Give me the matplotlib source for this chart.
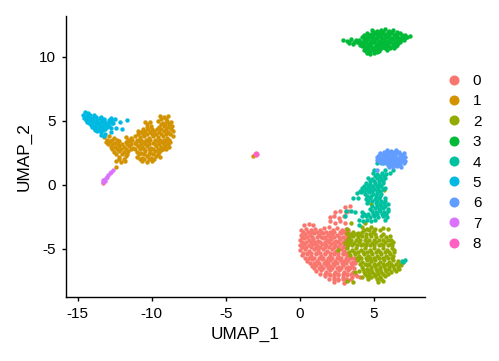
import matplotlib
matplotlib.use('Agg')
import matplotlib.pyplot as plt
from matplotlib.lines import Line2D

plt.rcParams['font.family'] = ['Liberation Sans', 'DejaVu Sans']

# umap coordinates, roughly row by row
cluster_0 = [
    (3.05, -1.72), (3.38, -1.68), (2.42, -2.1), (2.75, -2.02), (3.1, -2.12), (3.3, -2.05),
    (2.02, -2.5), (2.35, -2.42), (2.68, -2.55), (2.98, -2.46),
    (0.3, -3.12), (0.62, -3.05), (0.9, -3.15), (2.05, -2.85), (2.38, -2.95), (2.7, -2.82), (3.05, -2.98),
    (0.12, -3.48), (0.42, -3.42), (0.74, -3.55), (1.05, -3.4), (1.35, -3.52), (1.62, -3.38), (1.98, -3.28), (2.22, -3.5), (2.55, -3.36), (2.85, -3.5), (3.12, -3.4), (3.3, -3.55),
    (0.06, -3.88), (0.35, -3.8), (0.68, -3.92), (0.98, -3.78), (1.3, -3.9), (1.58, -3.76), (1.9, -3.88), (2.2, -3.8), (2.5, -3.92), (2.82, -3.78), (3.1, -3.86), (3.32, -3.98),
    (0.02, -4.28), (0.3, -4.18), (0.6, -4.32), (0.92, -4.2), (1.22, -4.34), (1.55, -4.18), (1.85, -4.3), (2.15, -4.2), (2.45, -4.34), (2.75, -4.2), (3.05, -4.3), (3.3, -4.22),
    (0.0, -4.68), (0.28, -4.6), (0.6, -4.72), (0.9, -4.58), (1.2, -4.7), (1.52, -4.6), (1.8, -4.72), (2.12, -4.58), (2.42, -4.7), (2.72, -4.62), (3.0, -4.74), (3.2, -4.6),
    (0.02, -5.08), (0.34, -5.0), (0.64, -5.12), (0.95, -4.98), (1.25, -5.1), (1.55, -5.02), (1.88, -5.14), (2.18, -5.0), (2.48, -5.12), (2.78, -5.02), (3.02, -5.14),
    (0.18, -5.5), (0.48, -5.4), (0.8, -5.52), (1.1, -5.4), (1.42, -5.54), (1.72, -5.42), (2.02, -5.52), (2.32, -5.42), (2.62, -5.54), (2.92, -5.42), (3.2, -5.5), (3.42, -5.62),
    (0.52, -5.92), (0.85, -5.82), (1.15, -5.94), (1.48, -5.82), (1.78, -5.96), (2.08, -5.84), (2.4, -5.96), (2.7, -5.84), (3.0, -5.96), (3.3, -5.86), (3.62, -5.98), (3.8, -5.84),
    (0.82, -6.32), (1.12, -6.22), (1.42, -6.36), (1.75, -6.24), (2.05, -6.36), (2.35, -6.24), (2.65, -6.38), (2.95, -6.26), (3.25, -6.38), (3.55, -6.28),
    (1.12, -6.72), (1.45, -6.62), (1.75, -6.76), (2.08, -6.64), (2.38, -6.78), (2.68, -6.66), (2.98, -6.78), (3.28, -6.66), (3.6, -6.78),
    (1.72, -7.12), (2.02, -7.02), (2.32, -7.16), (2.62, -7.04), (2.92, -7.18), (3.22, -7.06), (3.52, -7.16), (3.85, -7.1), (4.08, -7.2),
    (2.3, -7.58), (2.62, -7.46), (2.98, -7.62), (3.3, -7.42),
    (-13.27, 0.12),
]
cluster_1 = [
    (-9.45, 5.36), (-9.15, 5.28), (-8.92, 5.38),
    (-10.45, 4.95), (-10.12, 4.9), (-9.55, 4.98), (-9.25, 4.88), (-8.95, 5.0), (-8.68, 4.9),
    (-10.35, 4.55), (-10.05, 4.6), (-9.5, 4.52), (-9.2, 4.6), (-8.9, 4.5), (-8.62, 4.62),
    (-10.95, 4.18), (-10.72, 4.1), (-10.42, 4.22), (-10.12, 4.12), (-9.82, 4.24), (-9.5, 4.12), (-9.2, 4.22), (-8.9, 4.1), (-8.58, 4.2),
    (-13.22, 3.72), (-12.9, 3.8), (-12.55, 3.7), (-11.75, 3.78), (-11.42, 3.7), (-11.12, 3.84), (-10.82, 3.72), (-10.5, 3.82), (-10.2, 3.7), (-9.88, 3.84), (-9.58, 3.72), (-9.26, 3.82), (-8.95, 3.7), (-8.58, 3.8),
    (-13.12, 3.36), (-12.8, 3.42), (-12.5, 3.3), (-12.22, 3.44), (-11.75, 3.32), (-11.45, 3.42), (-11.15, 3.3), (-10.85, 3.44), (-10.55, 3.32), (-10.24, 3.4), (-9.92, 3.3), (-9.6, 3.44), (-9.3, 3.32), (-9.0, 3.42), (-8.78, 3.34),
    (-12.78, 3.0), (-12.48, 2.94), (-12.18, 3.06), (-11.88, 2.94), (-11.56, 3.04), (-11.25, 2.92), (-10.95, 3.04), (-10.65, 2.94), (-10.35, 3.06), (-10.02, 2.92), (-9.72, 3.04), (-9.4, 2.94), (-9.1, 3.04), (-8.82, 2.96),
    (-12.55, 2.58), (-12.22, 2.66), (-11.9, 2.54), (-11.62, 2.64), (-11.02, 2.6), (-10.72, 2.5), (-10.42, 2.66), (-10.1, 2.54), (-9.8, 2.66), (-9.5, 2.54), (-9.4, 2.72),
    (-12.22, 2.2), (-11.75, 2.24), (-10.98, 2.22), (-10.68, 2.14), (-10.35, 2.26), (-10.02, 2.14), (-9.72, 2.24), (-9.42, 2.18),
    (-12.38, 1.84), (-12.08, 1.76), (-11.82, 1.88), (-10.65, 1.84), (-10.32, 1.78), (-9.98, 1.88),
    (-12.42, 1.38),
    (-3.18, 2.28),
]
cluster_2 = [
    (3.5, -2.98), (4.42, -2.95),
    (3.22, -3.42), (4.22, -3.32), (4.52, -3.4), (4.82, -3.3), (5.1, -3.42), (5.65, -3.38), (6.0, -3.42),
    (3.2, -3.72), (3.62, -3.66), (3.92, -3.74), (4.22, -3.64), (4.95, -3.7),
    (3.32, -4.06), (3.62, -3.98), (3.92, -4.1), (4.2, -4.0), (4.5, -4.1), (4.8, -3.98), (5.18, -4.08), (5.52, -4.02), (5.82, -4.1), (6.1, -4.0),
    (3.08, -4.52), (3.38, -4.42), (3.68, -4.56), (3.98, -4.44), (4.28, -4.58), (4.58, -4.44), (4.88, -4.56), (5.18, -4.44), (5.48, -4.58), (5.78, -4.46), (6.08, -4.58), (6.3, -4.48),
    (2.62, -5.1), (3.22, -4.92), (3.52, -5.04), (3.82, -4.9), (4.12, -5.04), (4.42, -4.92), (4.72, -5.06), (5.02, -4.92), (5.32, -5.04), (5.62, -4.94), (5.92, -5.06), (6.22, -4.94), (6.4, -5.1),
    (3.42, -5.5), (3.72, -5.38), (4.02, -5.52), (4.32, -5.4), (4.62, -5.54), (4.92, -5.4), (5.22, -5.52), (5.52, -5.42), (5.82, -5.54), (6.12, -5.42), (6.3, -5.58),
    (3.92, -5.84), (4.22, -5.98), (4.52, -5.84), (4.82, -5.96), (5.12, -5.86), (5.42, -5.98), (5.72, -5.86), (6.02, -5.98), (6.32, -5.88), (6.62, -5.96), (7.0, -6.02),
    (4.22, -6.4), (4.52, -6.28), (4.82, -6.42), (5.12, -6.3), (5.42, -6.42), (5.72, -6.3), (6.02, -6.4), (6.32, -6.3), (6.62, -6.38), (6.88, -6.28),
    (3.72, -6.78), (4.02, -6.7), (4.32, -6.82), (4.62, -6.7), (4.92, -6.82), (5.22, -6.72), (5.52, -6.8), (5.82, -6.72), (6.18, -6.8), (6.52, -6.72),
    (4.22, -7.16), (4.52, -7.08), (4.82, -7.2), (5.12, -7.08), (5.42, -7.18), (5.75, -7.1),
    (3.2, -7.52), (3.6, -7.56), (5.32, -7.58), (5.6, -7.52),
    (4.8, -1.52), (5.7, -0.4),
]
cluster_3 = [
    (4.92, 12.08), (5.2, 12.0), (5.48, 12.14), (5.76, 12.22), (6.02, 12.04), (6.3, 12.08),
    (4.52, 11.84), (4.8, 11.76), (5.08, 11.88), (5.36, 11.78), (5.64, 11.9), (5.92, 11.76), (6.2, 11.88), (6.5, 11.8), (6.8, 11.86),
    (4.2, 11.58), (4.48, 11.52), (4.76, 11.62), (5.04, 11.5), (5.32, 11.64), (5.6, 11.52), (5.88, 11.62), (6.16, 11.5), (6.44, 11.62), (6.72, 11.52), (7.0, 11.62), (7.22, 11.56), (7.45, 11.62),
    (2.92, 11.36), (3.2, 11.28), (3.48, 11.38), (3.78, 11.3), (4.04, 11.36), (4.32, 11.26), (4.6, 11.38), (4.88, 11.26), (5.16, 11.38), (5.44, 11.28), (5.72, 11.38), (6.0, 11.26), (6.28, 11.38), (6.56, 11.28), (6.84, 11.36), (7.02, 11.3),
    (3.32, 11.12), (3.62, 11.05), (3.9, 11.14), (4.12, 11.02), (4.4, 11.12), (4.68, 11.02), (4.96, 11.14), (5.24, 11.02), (5.52, 11.12), (5.8, 11.02), (6.08, 11.14), (6.36, 11.02), (6.66, 11.1),
    (4.22, 10.84), (4.5, 10.78), (4.78, 10.88), (5.06, 10.78), (5.34, 10.88), (5.62, 10.78), (5.9, 10.86), (6.2, 10.78), (6.48, 10.84),
    (4.32, 10.58), (4.62, 10.52), (4.9, 10.62), (5.18, 10.52), (5.46, 10.6), (5.88, 10.56),
    (4.52, 10.34), (4.76, 10.22), (5.0, 10.3), (5.2, 10.36),
]
cluster_4 = [
    (5.2, 1.68), (5.65, 1.7), (5.0, 1.18), (5.76, 1.2), (6.3, 1.16),
    (4.98, 0.9), (5.25, 0.84), (5.55, 0.94), (5.85, 0.86), (6.1, 0.92),
    (4.64, 0.52), (4.92, 0.46), (5.2, 0.56), (5.48, 0.46), (5.76, 0.54),
    (4.5, 0.14), (4.78, 0.08), (5.06, 0.18), (5.34, 0.08), (5.64, 0.14),
    (4.2, -0.26), (4.48, -0.3), (4.76, -0.2), (5.04, -0.32), (5.32, -0.22), (5.6, -0.3), (5.76, -0.2),
    (3.86, -0.64), (4.14, -0.58), (4.42, -0.68), (4.7, -0.58), (4.98, -0.7), (5.26, -0.6), (5.5, -0.68),
    (3.62, -1.04), (3.92, -0.98), (4.5, -1.06), (4.78, -0.98), (5.06, -1.1), (5.34, -0.98), (5.76, -1.02),
    (4.55, -1.44), (5.14, -1.4), (5.42, -1.48), (5.7, -1.38), (5.98, -1.46),
    (4.78, -1.84), (5.06, -1.78), (5.34, -1.88), (5.62, -1.78), (5.98, -1.84),
    (3.1, -2.06), (3.5, -2.0), (3.75, -2.1), (4.2, -2.08), (4.86, -2.06), (5.14, -2.14), (5.42, -2.04), (5.7, -2.14), (5.98, -2.06),
    (3.05, -2.44), (4.2, -2.46), (4.48, -2.4), (4.76, -2.5), (5.04, -2.4), (5.32, -2.5), (5.62, -2.42), (5.9, -2.48),
    (3.98, -2.72), (4.28, -2.78), (4.56, -2.7), (4.84, -2.8), (5.1, -2.7), (5.76, -2.74),
    (4.02, -3.14),
    (6.9, -5.9), (7.1, -5.88), (7.0, -6.0),
]
cluster_5 = [
    (-14.48, 5.72), (-14.3, 5.66),
    (-14.65, 5.46), (-14.42, 5.42), (-14.2, 5.5), (-13.88, 5.44),
    (-14.58, 5.2), (-14.32, 5.14), (-14.06, 5.22), (-13.8, 5.14), (-13.52, 5.24), (-13.25, 5.16), (-12.75, 5.2), (-12.5, 5.12),
    (-14.35, 4.94), (-14.1, 4.88), (-13.85, 4.98), (-13.6, 4.88), (-13.35, 4.98), (-13.1, 4.88), (-12.8, 4.96), (-12.6, 4.88),
    (-14.12, 4.7), (-13.88, 4.64), (-13.62, 4.74), (-13.38, 4.64), (-13.12, 4.72), (-12.88, 4.64),
    (-13.9, 4.44), (-13.65, 4.38), (-13.4, 4.48), (-13.15, 4.38), (-12.78, 4.42),
    (-13.68, 4.18), (-13.42, 4.1), (-13.15, 4.0), (-12.72, 4.12),
    (-13.45, 3.9), (-13.2, 3.84),
    (-11.7, 5.05), (-12.15, 4.9), (-12.4, 4.45), (-12.0, 4.35),
]
cluster_6 = [
    (5.92, 2.72), (6.2, 2.66), (6.52, 2.74),
    (5.42, 2.46), (5.68, 2.4), (5.95, 2.5), (6.22, 2.4), (6.5, 2.48), (6.8, 2.42), (7.08, 2.46),
    (5.22, 2.2), (5.48, 2.14), (5.76, 2.24), (6.04, 2.14), (6.32, 2.24), (6.6, 2.14), (6.88, 2.22), (7.1, 2.16),
    (5.22, 1.94), (5.5, 1.9), (5.78, 1.98), (6.06, 1.88), (6.34, 1.98), (6.62, 1.88), (6.9, 1.96), (7.1, 1.9),
    (5.52, 1.68), (5.82, 1.72), (6.1, 1.64), (6.38, 1.72), (6.66, 1.64), (7.02, 1.7),
    (6.02, 1.44), (6.3, 1.4), (6.6, 1.48), (6.88, 1.42),
    (5.25, 1.2),
]
cluster_7 = [
    (-12.6, 1.16), (-12.72, 1.02), (-12.8, 0.92), (-12.92, 0.78), (-13.02, 0.66), (-13.12, 0.54),
    (-13.2, 0.42), (-13.3, 0.36), (-13.18, 0.28), (-13.3, 0.2),
]
cluster_8 = [(-3.05, 2.45), (-2.95, 2.52), (-2.85, 2.42), (-2.98, 2.38)]

# denser rows in between, as (y, xs)
fill_0 = [
    (-3.68, [0.2, 0.55, 0.85, 1.2, 1.45, 1.75, 2.05, 2.35, 2.7, 2.98, 3.25]),
    (-4.05, [0.18, 0.5, 0.82, 1.15, 1.45, 1.72, 2.05, 2.35, 2.65, 2.95, 3.2]),
    (-4.45, [0.15, 0.45, 0.75, 1.05, 1.38, 1.68, 2.0, 2.3, 2.6, 2.9, 3.18]),
    (-4.85, [0.15, 0.45, 0.75, 1.08, 1.38, 1.68, 1.98, 2.3, 2.6, 2.9, 3.1]),
    (-5.3, [0.2, 0.5, 0.78, 1.1, 1.4, 1.72, 2.02, 2.32, 2.62, 2.9, 3.15]),
    (-5.72, [0.35, 0.65, 0.95, 1.28, 1.58, 1.9, 2.2, 2.5, 2.82, 3.12, 3.45, 3.7]),
    (-6.12, [0.68, 1.0, 1.3, 1.62, 1.92, 2.22, 2.55, 2.85, 3.15, 3.45, 3.72]),
    (-6.5, [0.98, 1.28, 1.6, 1.9, 2.2, 2.5, 2.82, 3.12, 3.42, 3.7]),
    (-6.92, [1.4, 1.7, 2.0, 2.3, 2.6, 2.9, 3.2, 3.5, 3.75]),
    (-7.32, [2.0, 2.3, 2.6, 2.9, 3.15, 3.45]),
]
fill_1 = [
    (5.12, [-9.35, -9.05]),
    (4.75, [-10.3, -9.4, -9.1, -8.8]),
    (4.35, [-10.6, -10.25, -9.95, -9.65, -9.35, -9.05, -8.72]),
    (3.98, [-10.9, -10.6, -10.3, -10.0, -9.7, -9.35, -9.05, -8.75]),
    (3.55, [-13.0, -12.7, -12.35, -11.6, -11.3, -11.0, -10.7, -10.4, -10.1, -9.75, -9.45, -9.15, -8.8]),
    (3.18, [-12.95, -12.65, -12.3, -12.0, -11.7, -11.4, -11.05, -10.75, -10.45, -10.15, -9.8, -9.5, -9.2, -8.9]),
    (2.78, [-12.65, -12.35, -12.05, -11.75, -11.4, -11.1, -10.8, -10.5, -10.2, -9.9, -9.6, -9.25, -9.0]),
    (2.4, [-12.4, -12.0, -11.7, -10.85, -10.55, -10.2, -9.9, -9.6]),
    (2.0, [-12.2, -11.9, -10.8, -10.5, -10.15, -9.85]),
]
fill_2 = [
    (-3.5, [4.35, 4.7, 5.0, 5.4]),
    (-3.85, [3.45, 3.8, 4.1, 4.45, 4.75, 5.1, 5.6]),
    (-4.28, [3.2, 3.5, 3.8, 4.1, 4.4, 4.7, 5.0, 5.35, 5.65, 5.95, 6.2]),
    (-4.72, [3.25, 3.55, 3.85, 4.15, 4.45, 4.75, 5.05, 5.35, 5.65, 5.95, 6.25]),
    (-5.22, [3.35, 3.65, 3.95, 4.25, 4.55, 4.85, 5.15, 5.45, 5.75, 6.05, 6.35]),
    (-5.72, [3.85, 4.15, 4.45, 4.75, 5.05, 5.35, 5.65, 5.95, 6.25]),
    (-6.15, [4.1, 4.4, 4.7, 5.0, 5.3, 5.6, 5.9, 6.2, 6.5, 6.8]),
    (-6.58, [4.25, 4.55, 4.85, 5.15, 5.45, 5.75, 6.05, 6.35, 6.7]),
    (-6.98, [4.4, 4.7, 5.0, 5.3, 5.6, 5.95]),
    (-7.35, [4.6, 5.2, 5.5]),
]
fill_3 = [
    (11.95, [5.05, 5.35, 5.65, 5.95, 6.25, 6.55]),
    (11.7, [4.35, 4.65, 4.95, 5.25, 5.5, 5.8, 6.05, 6.35, 6.6, 6.9, 7.1]),
    (11.45, [4.35, 4.6, 4.9, 5.2, 5.5, 5.75, 6.05, 6.3, 6.6, 6.85, 7.1]),
    (11.2, [3.35, 3.65, 3.95, 4.2, 4.5, 4.75, 5.05, 5.3, 5.6, 5.85, 6.15, 6.45, 6.75]),
    (10.95, [4.05, 4.3, 4.6, 4.85, 5.15, 5.45, 5.7, 6.0, 6.3, 6.55]),
    (10.7, [4.4, 4.65, 4.95, 5.2, 5.5, 5.8, 6.1, 6.35]),
    (10.45, [4.45, 4.75, 5.05, 5.35]),
]
fill_4 = [
    (0.72, [5.1, 5.4, 5.7]),
    (0.32, [4.75, 5.05, 5.35, 5.6]),
    (-0.06, [4.35, 4.65, 4.95, 5.2, 5.5]),
    (-0.45, [4.05, 4.35, 4.6, 4.9, 5.2, 5.45]),
    (-0.85, [4.55, 4.85, 5.15, 5.45]),
    (-1.22, [4.6, 4.9, 5.2, 5.5, 5.8]),
    (-1.62, [4.9, 5.2, 5.5, 5.8]),
    (-2.25, [4.35, 4.6, 4.95, 5.25, 5.55, 5.85]),
]
fill_5 = [
    (5.32, [-14.5, -14.25, -13.75, -13.4]),
    (5.05, [-14.45, -14.2, -13.95, -13.7, -13.45, -13.2, -12.9, -12.65]),
    (4.82, [-14.25, -14.0, -13.75, -13.5, -13.25, -12.95, -12.7]),
    (4.55, [-14.0, -13.75, -13.5, -13.25, -13.0]),
    (4.28, [-13.8, -13.55, -13.3]),
]
fill_6 = [
    (2.58, [5.7, 6.0, 6.35, 6.7]),
    (2.32, [5.35, 5.6, 5.9, 6.15, 6.45, 6.75, 7.0]),
    (2.06, [5.35, 5.65, 5.9, 6.2, 6.45, 6.75, 7.0]),
    (1.8, [5.4, 5.65, 5.95, 6.2, 6.5, 6.8, 7.05]),
    (1.55, [5.95, 6.25, 6.5, 6.8]),
]

clusters = [cluster_0, cluster_1, cluster_2, cluster_3, cluster_4, cluster_5, cluster_6, cluster_7, cluster_8]
fills = [fill_0, fill_1, fill_2, fill_3, fill_4, fill_5, fill_6, [], []]
labels = ['0', '1', '2', '3', '4', '5', '6', '7', '8']
colors = ['#F8766D', '#D39200', '#93AA00', '#00BA38', '#00C19F', '#00B9E3', '#619CFF', '#DB72FB', '#FF61C3']

fig = plt.figure(figsize=(4.99, 3.61), dpi=100)
ax = fig.add_axes([66 / 499, 1 - 297 / 361, (425 - 66) / 499, (297 - 16) / 361])

for pts, fill, c in zip(clusters, fills, colors):
    x, y = zip(*pts)
    x, y = list(x), list(y)
    for row_y, row_x in fill:
        x += row_x
        y += [row_y] * len(row_x)
    ax.scatter(x, y, s=10, color=c, linewidths=0)

ax.set_xlim(-15.79, 8.47)
ax.set_ylim(-8.75, 13.2)
ax.set_xticks([-15, -10, -5, 0, 5])
ax.set_yticks([-5, 0, 5, 10])
ax.xaxis.set_major_formatter(lambda v, p: f'{v:g}')
ax.yaxis.set_major_formatter(lambda v, p: f'{v:g}')
ax.tick_params(labelsize=11, length=3.2, width=1, pad=4)
ax.spines['top'].set_visible(False)
ax.spines['right'].set_visible(False)
ax.spines['left'].set_linewidth(1)
ax.spines['bottom'].set_linewidth(1)
ax.set_xlabel('UMAP_1', fontsize=12.4, labelpad=4)
ax.set_ylabel('UMAP_2', fontsize=12.4, labelpad=5)

handles = [Line2D([], [], marker='o', linestyle='', color=c, markersize=7.2, markeredgewidth=0) for c in colors]
fig.legend(handles, labels, loc='center left', bbox_to_anchor=(445 / 499, 1 - 162.5 / 361), frameon=False,
           fontsize=11, labelspacing=0.415, handletextpad=0.62, handlelength=1.2, borderpad=0, borderaxespad=0)

plt.savefig('out.png', dpi=100)
